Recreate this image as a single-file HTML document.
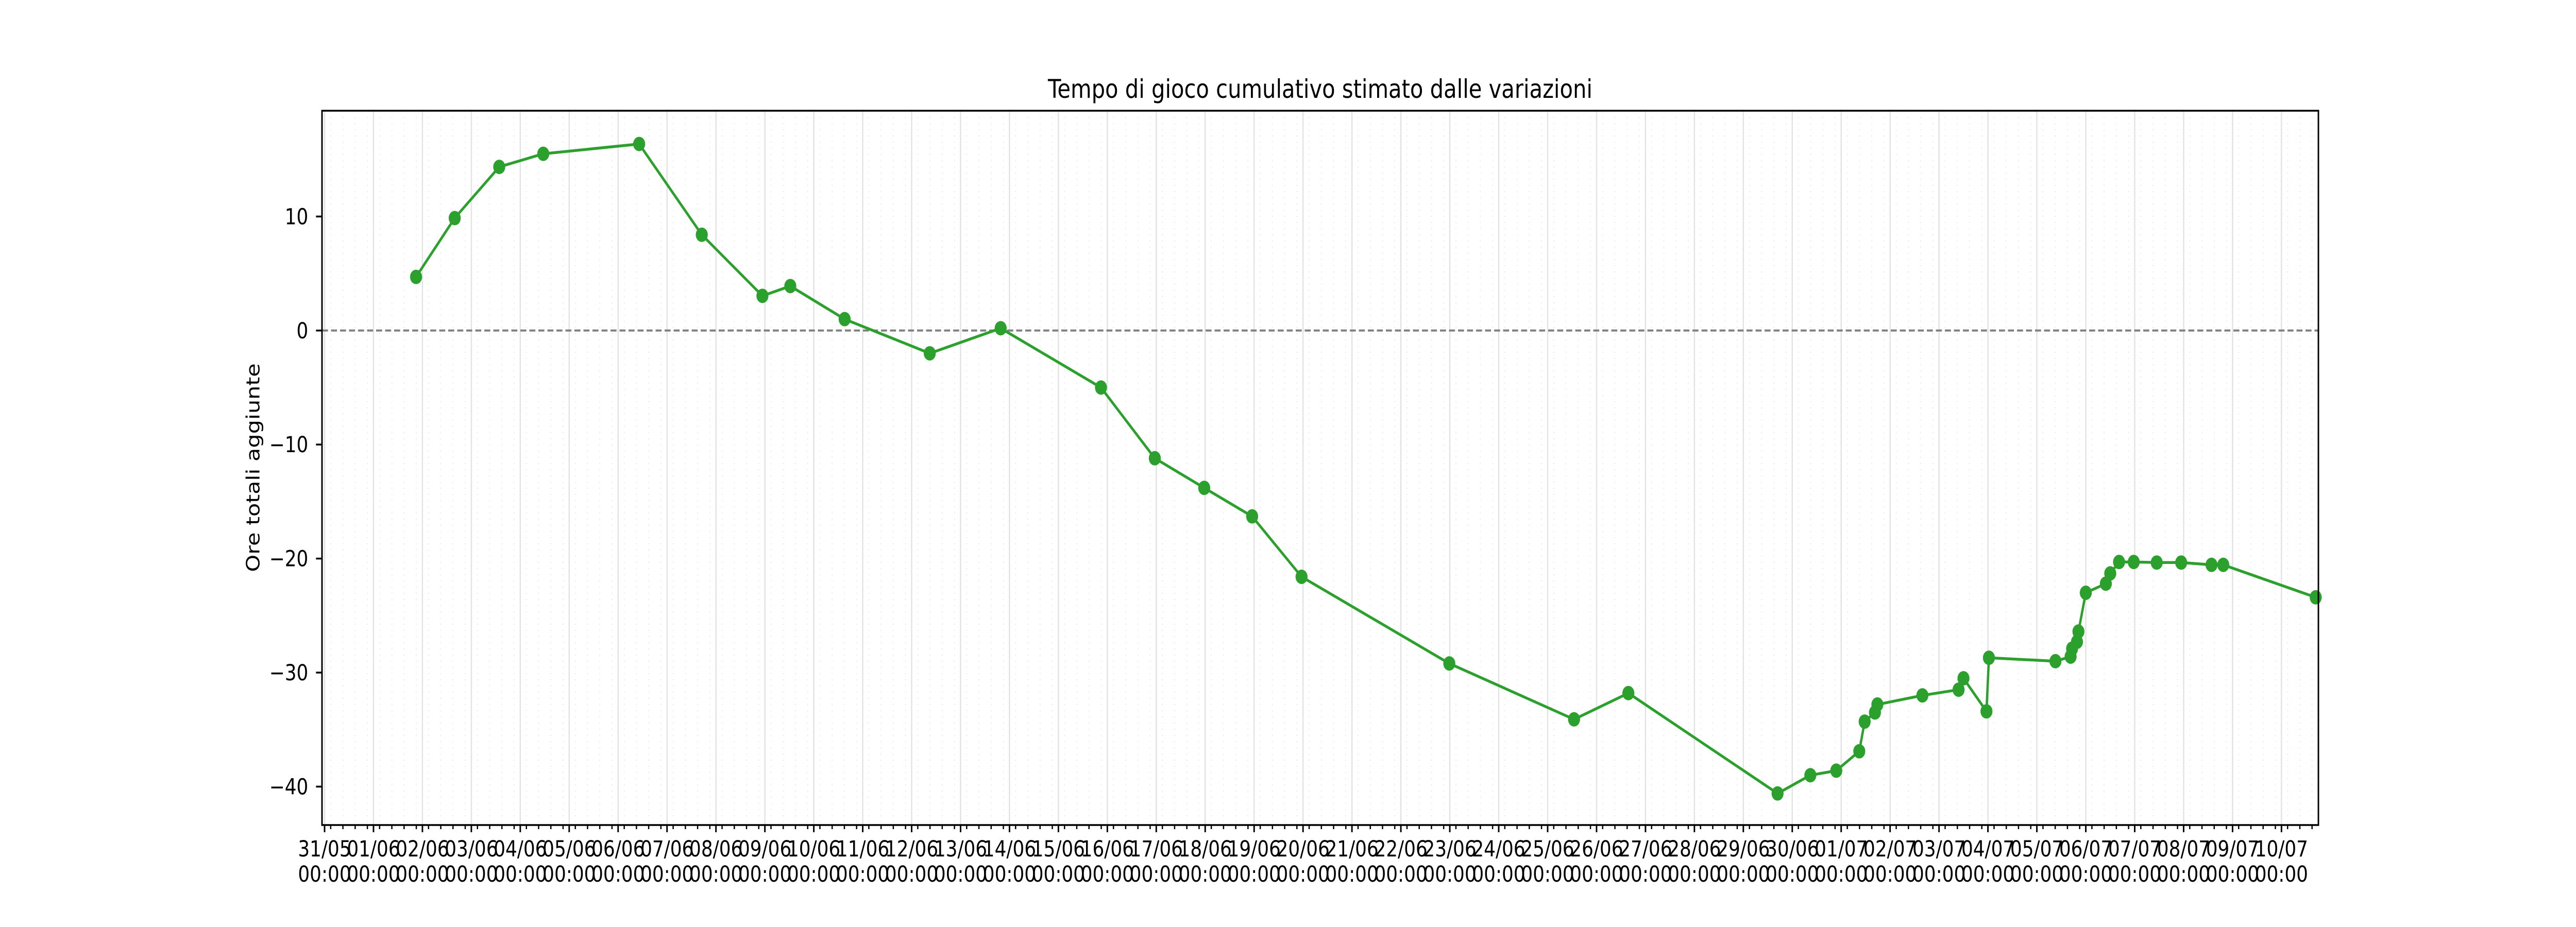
<!DOCTYPE html>
<html><head><meta charset="utf-8"><style>
html,body{margin:0;padding:0;background:#fff;width:100vw;height:100vh;overflow:hidden}
svg{display:block;width:100vw;height:100vh;font-family:"DejaVu Sans","Liberation Sans",sans-serif}
</style></head><body>
<svg id="chart" viewBox="0 0 6000 1800" preserveAspectRatio="none" xmlns="http://www.w3.org/2000/svg">
<rect x="0" y="0" width="6000" height="1800" fill="#fff"/>
<g id="grid"></g>
<g id="zero"></g>
<g id="series"></g>
<g id="axes"></g>
<text x="3075" y="190" text-anchor="middle" font-size="50" fill="#000">Tempo di gioco cumulativo stimato dalle variazioni</text>
<text transform="translate(604,908) rotate(-90)" text-anchor="middle" font-size="43" fill="#000">Ore totali aggiunte</text>
</svg>
<script>
// days since 31/05 00:00
const dayValues = [1.87,2.66,3.57,4.47,6.43,7.71,8.95,9.52,10.63,12.37,13.82,15.87,16.97,17.98,18.96,19.97,22.99,25.54,26.65,29.7,30.37,30.9,31.37,31.48,31.69,31.74,32.66,33.4,33.5,33.97,34.02,35.38,35.69,35.72,35.82,35.85,36.0,36.41,36.5,36.68,36.98,37.45,37.95,38.57,38.81,40.7];
const hourValues = [4.7,9.86,14.35,15.5,16.36,8.4,3.04,3.9,1.0,-2.0,0.2,-5.0,-11.2,-13.8,-16.3,-21.6,-29.2,-34.1,-31.8,-40.6,-39.0,-38.6,-36.9,-34.3,-33.5,-32.8,-32.0,-31.5,-30.5,-33.4,-28.7,-29.0,-28.6,-27.9,-27.3,-26.4,-23.0,-22.2,-21.3,-20.3,-20.3,-20.35,-20.35,-20.55,-20.55,-23.4];
const xTickLabels = ["31/05","01/06","02/06","03/06","04/06","05/06","06/06","07/06","08/06","09/06","10/06","11/06","12/06","13/06","14/06","15/06","16/06","17/06","18/06","19/06","20/06","21/06","22/06","23/06","24/06","25/06","26/06","27/06","28/06","29/06","30/06","01/07","02/07","03/07","04/07","05/07","06/07","07/07","08/07","09/07","10/07"];
const yTicks = [-40,-30,-20,-10,0,10];

const NS="http://www.w3.org/2000/svg";
const L=750,R=5400,T=215,B=1602;
const X0=756,DX=113.95,Y0=641.8,DY=22.14;
const xs=d=>X0+DX*d, ys=v=>Y0-DY*v;
function mk(tag,attrs,parent){const e=document.createElementNS(NS,tag);for(const k in attrs)e.setAttribute(k,attrs[k]);parent.appendChild(e);return e;}
const grid=document.getElementById('grid'),axes=document.getElementById('axes'),series=document.getElementById('series'),zero=document.getElementById('zero');

for(let i=0;i<xTickLabels.length;i++){
  for(const f of [0.125,0.375,0.625,0.875]){
    const x=xs(i+f); if(x>R) continue;
    const g=mk('line',{x1:x,x2:x,y1:T,y2:B,stroke:'#e6e6e6','stroke-width':2,'stroke-dasharray':'2,10'},grid);
    
    
    const t=mk('line',{x1:x,x2:x,y1:B,y2:B+8,stroke:'#000','stroke-width':3},axes);
    
    
  }
}
xTickLabels.forEach((lab,i)=>{
  const x=xs(i);
  const g=mk('line',{x1:x,x2:x,y1:T,y2:B,stroke:'#e3e3e3','stroke-width':3},grid);
  
  
  const t=mk('line',{x1:x,x2:x,y1:B,y2:B+14,stroke:'#000','stroke-width':3.5},axes);
  
  
  const tx=mk('text',{x:x,y:1663,'text-anchor':'middle','font-size':43,fill:'#000'},axes);
  
  
  tx.textContent=lab;
  const tx2=mk('text',{x:x,y:1712,'text-anchor':'middle','font-size':43,fill:'#000'},axes);
  
  
  tx2.textContent='00:00';
});
yTicks.forEach(v=>{
  const y=ys(v);
  const t=mk('line',{x1:L-14,x2:L,y1:y,y2:y,stroke:'#000','stroke-width':3.5},axes);
  
  
  const tx=mk('text',{x:718,y:y+15,'text-anchor':'end','font-size':43,fill:'#000'},axes);
  
  
  tx.textContent=(v<0?'\u2212':'')+Math.abs(v);
});
const z=mk('line',{x1:L,x2:R,y1:ys(0),y2:ys(0),stroke:'#808080','stroke-width':4,'stroke-dasharray':'14,7'},zero);


const pts=dayValues.map((d,i)=>xs(d).toFixed(1)+','+ys(hourValues[i]).toFixed(1)).join(' ');
const pl=mk('polyline',{points:pts,fill:'none',stroke:'#2ca02c','stroke-width':5.5,'stroke-linejoin':'round'},series);


dayValues.forEach((d,i)=>{
  const c=mk('circle',{cx:xs(d),cy:ys(hourValues[i]),r:14,fill:'#2ca02c'},series);
  
  
});
const sp=mk('rect',{x:L,y:T,width:R-L,height:B-T,fill:'none',stroke:'#000','stroke-width':3.5},axes);


</script>
</body></html>
